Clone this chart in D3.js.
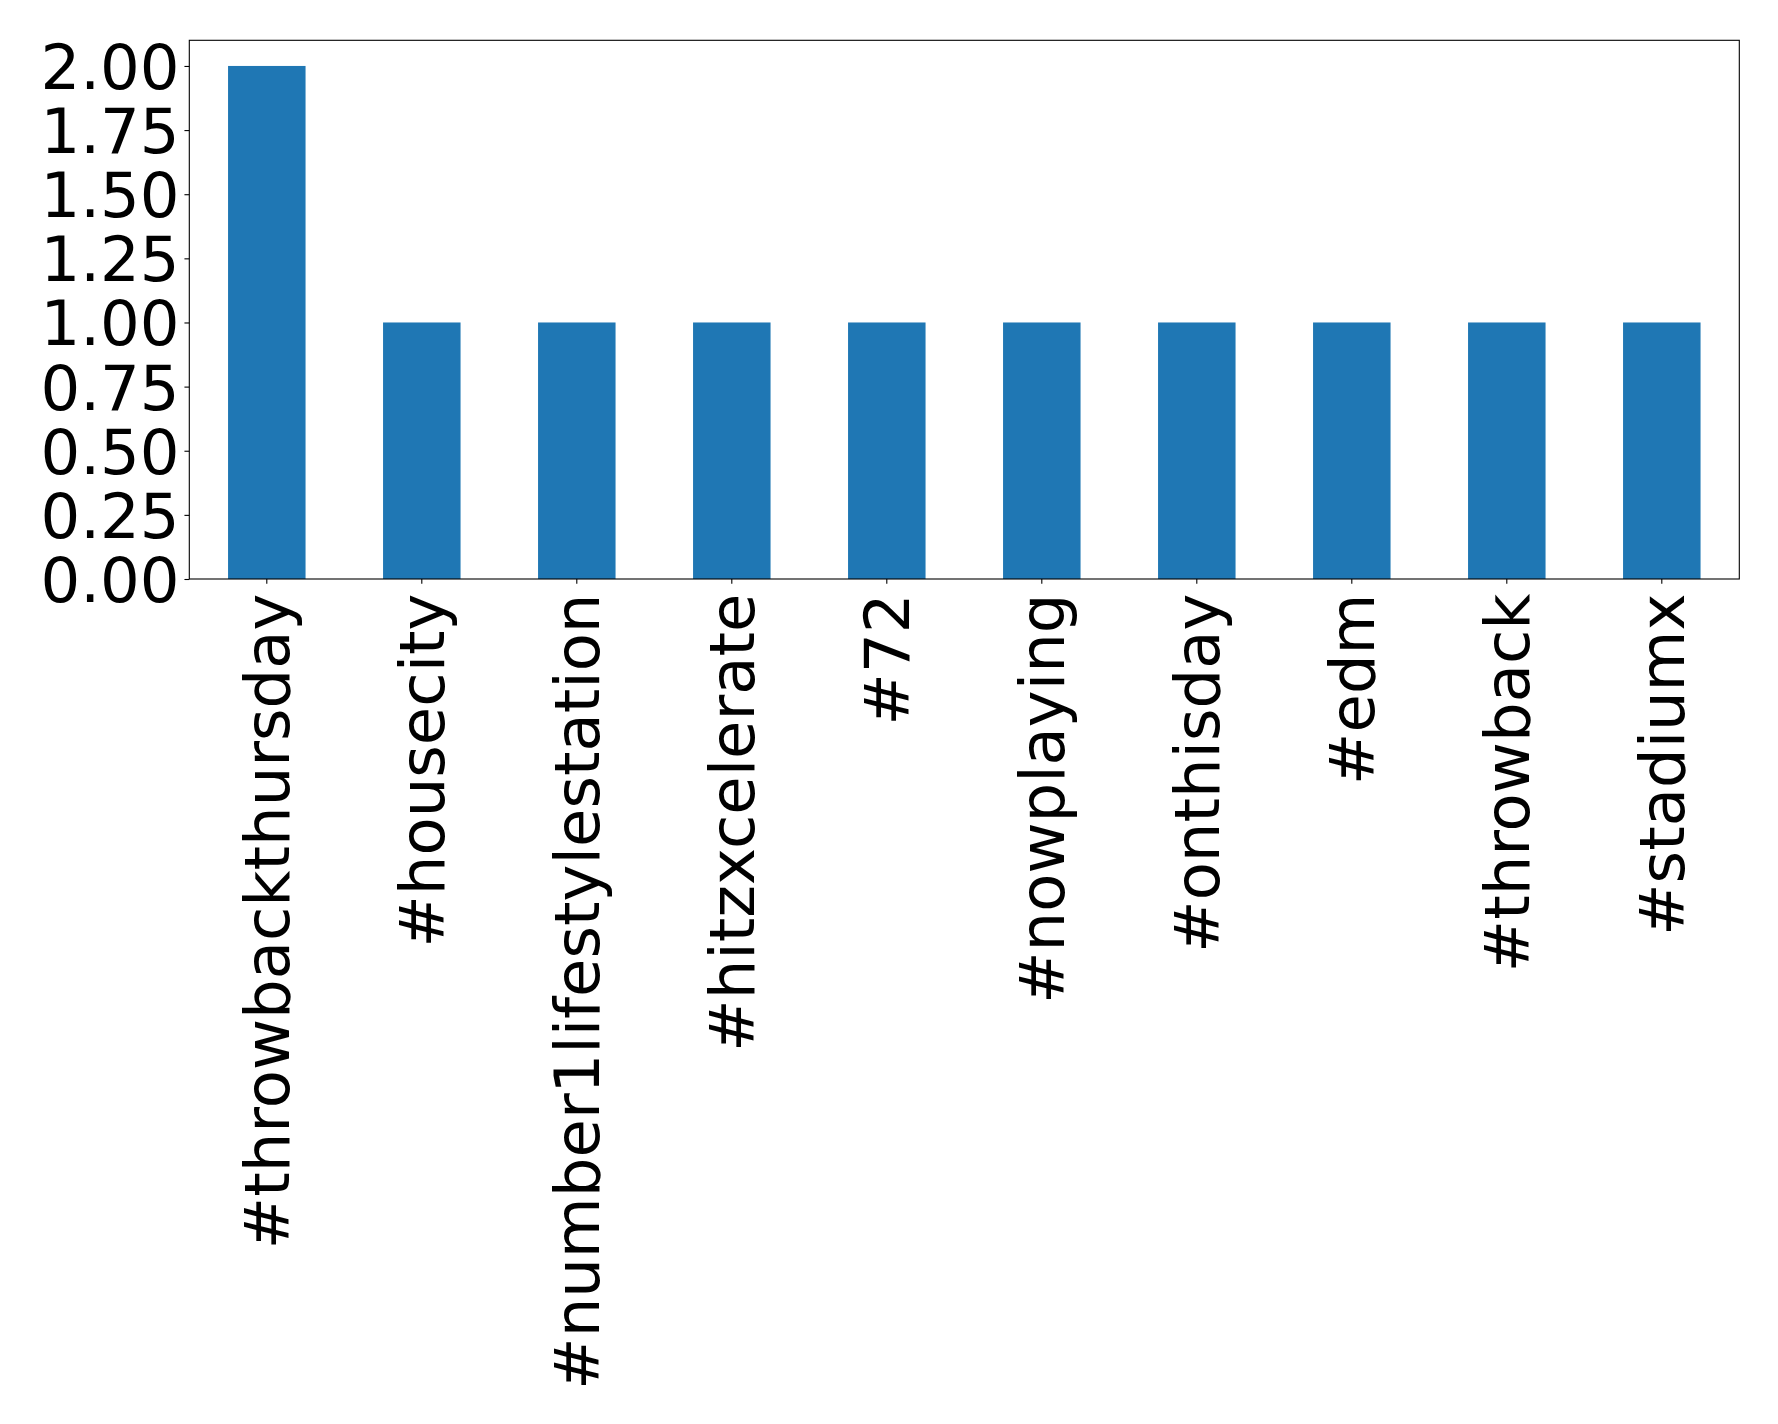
<!DOCTYPE html>
<html><head><meta charset="utf-8">
<script src="https://cdn.jsdelivr.net/npm/d3@7"></script>
<style>body{margin:0;background:#fff}svg{display:block}</style>
</head><body>
<script>
const categories = ["#throwbackthursday","#housecity","#number1lifestylestation","#hitzxcelerate","#72","#nowplaying","#onthisday","#edm","#throwback","#stadiumx"];
const values = [2,1,1,1,1,1,1,1,1,1];
const yTicks = [0,0.25,0.5,0.75,1.0,1.25,1.5,1.75,2.0];

const W=1778,H=1424;
const L=189.3,R=1739.3,T=40.3,B=579;
const svg=d3.select("body").append("svg").attr("width",W).attr("height",H);
const x=d3.scaleBand().domain(categories).range([L,R]).paddingInner(0.5).paddingOuter(0.25);
const y=d3.scaleLinear().domain([0,2.1]).range([B,T]);
const fs=62.5;
svg.append("g").selectAll("rect").data(values).join("rect")
 .attr("x",(d,i)=>x(categories[i])).attr("width",x.bandwidth())
 .attr("y",d=>y(d)).attr("height",d=>y(0)-y(d)).attr("fill","#1f77b4");

const ya=svg.append("g").attr("transform",`translate(${L},0)`)
 .call(d3.axisLeft(y).tickValues(yTicks).tickFormat(d3.format(".2f")).tickSize(4.86).tickPadding(4.86));
ya.select(".domain").remove();
ya.selectAll("line").attr("stroke","#000").attr("stroke-width",1.1);
ya.selectAll("text").attr("font-family","DejaVu Sans").attr("font-size",fs).attr("fill","#000").attr("dy","0.36em");

const xa=svg.append("g").attr("transform",`translate(0,${B})`)
 .call(d3.axisBottom(x).tickSize(4.86).tickPadding(4.86));
xa.select(".domain").remove();
xa.selectAll("line").attr("stroke","#000").attr("stroke-width",1.1);
xa.selectAll("text").attr("font-family","DejaVu Sans").attr("font-size",fs).attr("fill","#000")
 .attr("text-anchor","end").attr("y",0).attr("dy","0.35em")
 .attr("transform","translate(0,14.5) rotate(-90)");

svg.append("rect").attr("x",L).attr("y",T).attr("width",R-L).attr("height",B-T)
 .attr("fill","none").attr("stroke","#000").attr("stroke-width",1.1);
</script>
</body></html>
